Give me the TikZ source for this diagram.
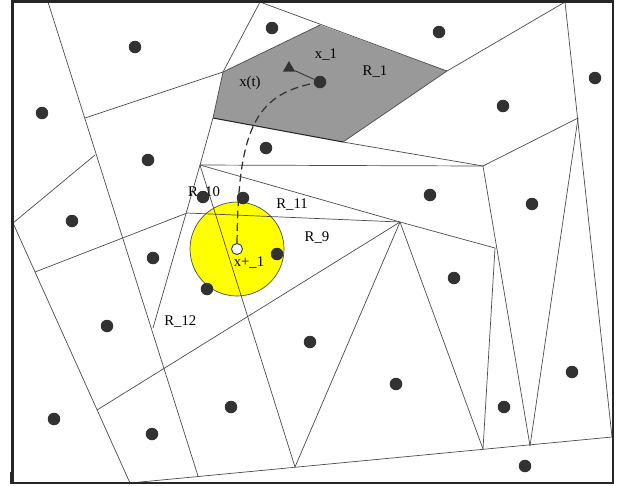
\documentclass[tikz,border=0pt]{standalone}
\usepackage{fontspec}
\setmainfont{Liberation Serif}
\usetikzlibrary{shapes.geometric}
\definecolor{CellGray}{RGB}{153,153,153}
\definecolor{SiteDark}{RGB}{50,50,50}
\definecolor{BallYellow}{RGB}{255,255,0}

\begin{document}
\begin{tikzpicture}[x=0.02cm,y=-0.02cm,font=\fontsize{8.4}{10}\selectfont,
  edge/.style={black!70,line width=0.4pt},
  site/.style={circle,fill=SiteDark,inner sep=0pt,minimum size=0.25cm},
  lbl/.style={inner sep=0pt}]
  \useasboundingbox (0,0) rectangle (621,485);

  % shaded cell R_1 and the yellow ball
  \fill[CellGray] (223,72) -- (320,25) -- (447,71) -- (343,142) -- (213,118) -- cycle;
  \filldraw[fill=BallYellow,draw=black!70,line width=0.4pt] (237,249) circle [radius=0.94cm];

  % cell edges
  \draw[edge] (48,2) -- (198,476);
  \draw[edge] (85,118) -- (223,72);
  \draw[edge] (13,223) -- (95,155);
  \draw[edge] (13,223) -- (130,483);
  \draw[edge] (35,272) -- (187,213) -- (400,222);
  \draw[edge] (260,2) -- (223,72) -- (213,118) -- (200,165) -- (153,328);
  \draw[edge] (260,2) -- (447,71) -- (565,2);
  \draw[edge] (223,72) -- (320,25);
  \draw[edge,black!85,line width=0.6pt] (213,118) -- (343,142);
  \draw[edge] (343,142) -- (483,166);
  \draw[edge] (447,71) -- (343,142);
  \draw[edge] (200,165) -- (483,166) -- (578,118);
  \draw[edge] (565,2) -- (612,437);
  \draw[edge] (483,166) -- (530,446);
  \draw[edge] (578,118) -- (530,446);
  \draw[edge] (200,165) -- (400,222) -- (495,248) -- (483,449);
  \draw[edge] (200,165) -- (295,467);
  \draw[edge] (400,222) -- (295,467);
  \draw[edge] (400,222) -- (483,449);
  \draw[edge] (400,222) -- (97,410);
  \draw[edge] (130,483) -- (612,437);

  % frame
  \draw[line width=1.3pt,black!85] (12.5,1.5) rectangle (613,483);
  \draw[line width=1pt,black!85] (11,472) -- (11,484);

  % labels
  \node[lbl] (lx1) at (326,55) {x\_1};
  \node[lbl] (lr1) at (375,72) {R\_1};
  \node[lbl] (lxt) at (250,83) {x(t)};
  \node[lbl] (lr10) at (204,193) {R\_10};
  \node[lbl] (lr11) at (292,205) {R\_11};
  \node[lbl] (lr9) at (317,238) {R\_9};
  \node[lbl] (lxp) at (249,263) {x+\_1};
  \node[lbl,anchor=west] (lr12) at (164,322) {R\_12};

  % sites
  \foreach \x/\y [count=\i] in {135/47, 272/28, 42/113, 148/160, 266/148, 72/221,
      203/197, 243/198, 439/32, 595/78, 503/106, 430/195, 532/204, 153/258,
      207/289, 107/326, 310/342, 54/419, 152/434, 231/407, 277/254, 454/278,
      396/384, 504/407, 572/372, 525/466}
    \node[site] (s\i) at (\x,\y) {};
  \node[site] (x1) at (320,82) {};
  \node[regular polygon,regular polygon sides=3,fill=SiteDark,inner sep=0pt,
    minimum size=0.28cm] (obs) at (289,68) {};
  \node[circle,fill=white,draw=SiteDark,line width=0.5pt,inner sep=0pt,
    minimum size=0.22cm] (xp) at (237,249) {};

  % trajectory
  \draw[SiteDark,line width=0.5pt] (obs) -- (x1);
  \draw[SiteDark,line width=0.7pt,dash pattern=on 4.5pt off 2.5pt]
    (xp) .. controls (238,130) and (255,95) .. (x1);
\end{tikzpicture}
\end{document}
